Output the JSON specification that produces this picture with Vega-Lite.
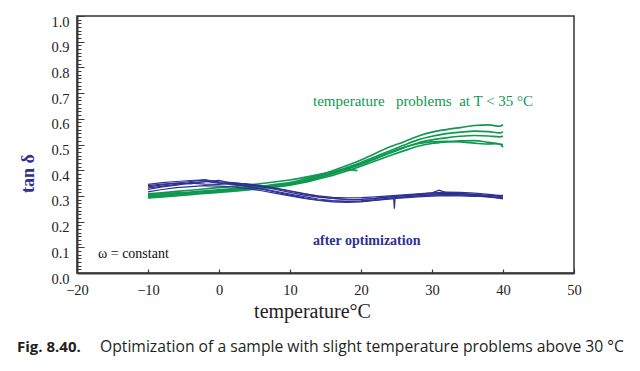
{
  "$schema": "https://vega.github.io/schema/vega-lite/v6.json",
  "width": 497,
  "height": 257,
  "autosize": {"type": "none"},
  "padding": {"left": 77, "top": 16, "right": 66, "bottom": 98},
  "background": "white",
  "config": {"view": {"stroke": "#333333", "strokeWidth": 1.5}, "font": "Liberation Serif"},
  "datasets": {
    "curves": [
      {"g":"before","run":"G1","T":-10,"v":0.305},{"g":"before","run":"G1","T":-7,"v":0.31},{"g":"before","run":"G1","T":-4,"v":0.315},{"g":"before","run":"G1","T":-1,"v":0.322},{"g":"before","run":"G1","T":2,"v":0.328},{"g":"before","run":"G1","T":5,"v":0.335},{"g":"before","run":"G1","T":8,"v":0.345},{"g":"before","run":"G1","T":10,"v":0.352},{"g":"before","run":"G1","T":12,"v":0.365},{"g":"before","run":"G1","T":14,"v":0.38},{"g":"before","run":"G1","T":16,"v":0.398},{"g":"before","run":"G1","T":18,"v":0.418},{"g":"before","run":"G1","T":20,"v":0.44},{"g":"before","run":"G1","T":22,"v":0.465},{"g":"before","run":"G1","T":24,"v":0.49},{"g":"before","run":"G1","T":26,"v":0.51},{"g":"before","run":"G1","T":28.3,"v":0.535},{"g":"before","run":"G1","T":30,"v":0.548},{"g":"before","run":"G1","T":32,"v":0.558},{"g":"before","run":"G1","T":34,"v":0.566},{"g":"before","run":"G1","T":36,"v":0.574},{"g":"before","run":"G1","T":38,"v":0.576},{"g":"before","run":"G1","T":39.5,"v":0.571},{"g":"before","run":"G1","T":40,"v":0.577},
      {"g":"before","run":"G2","T":-10,"v":0.3},{"g":"before","run":"G2","T":-7,"v":0.305},{"g":"before","run":"G2","T":-4,"v":0.312},{"g":"before","run":"G2","T":-1,"v":0.318},{"g":"before","run":"G2","T":2,"v":0.325},{"g":"before","run":"G2","T":5,"v":0.332},{"g":"before","run":"G2","T":8,"v":0.34},{"g":"before","run":"G2","T":10,"v":0.348},{"g":"before","run":"G2","T":12,"v":0.36},{"g":"before","run":"G2","T":14,"v":0.375},{"g":"before","run":"G2","T":16,"v":0.392},{"g":"before","run":"G2","T":18,"v":0.41},{"g":"before","run":"G2","T":20,"v":0.43},{"g":"before","run":"G2","T":22,"v":0.452},{"g":"before","run":"G2","T":24,"v":0.475},{"g":"before","run":"G2","T":26,"v":0.497},{"g":"before","run":"G2","T":28,"v":0.518},{"g":"before","run":"G2","T":30,"v":0.532},{"g":"before","run":"G2","T":32,"v":0.542},{"g":"before","run":"G2","T":34,"v":0.548},{"g":"before","run":"G2","T":36,"v":0.552},{"g":"before","run":"G2","T":38,"v":0.55},{"g":"before","run":"G2","T":39.5,"v":0.545},{"g":"before","run":"G2","T":40,"v":0.55},
      {"g":"before","run":"G3","T":-10,"v":0.295},{"g":"before","run":"G3","T":-7,"v":0.3},{"g":"before","run":"G3","T":-4,"v":0.308},{"g":"before","run":"G3","T":-1,"v":0.315},{"g":"before","run":"G3","T":2,"v":0.322},{"g":"before","run":"G3","T":5,"v":0.33},{"g":"before","run":"G3","T":8,"v":0.338},{"g":"before","run":"G3","T":10,"v":0.345},{"g":"before","run":"G3","T":12,"v":0.356},{"g":"before","run":"G3","T":14,"v":0.37},{"g":"before","run":"G3","T":16,"v":0.386},{"g":"before","run":"G3","T":18,"v":0.404},{"g":"before","run":"G3","T":20,"v":0.423},{"g":"before","run":"G3","T":22,"v":0.444},{"g":"before","run":"G3","T":24,"v":0.466},{"g":"before","run":"G3","T":26,"v":0.487},{"g":"before","run":"G3","T":28,"v":0.506},{"g":"before","run":"G3","T":30,"v":0.518},{"g":"before","run":"G3","T":32,"v":0.526},{"g":"before","run":"G3","T":34,"v":0.532},{"g":"before","run":"G3","T":36,"v":0.535},{"g":"before","run":"G3","T":38,"v":0.533},{"g":"before","run":"G3","T":39.5,"v":0.53},{"g":"before","run":"G3","T":40,"v":0.532},
      {"g":"before","run":"G4","T":-10,"v":0.292},{"g":"before","run":"G4","T":-7,"v":0.298},{"g":"before","run":"G4","T":-4,"v":0.305},{"g":"before","run":"G4","T":-1,"v":0.312},{"g":"before","run":"G4","T":2,"v":0.318},{"g":"before","run":"G4","T":5,"v":0.326},{"g":"before","run":"G4","T":8,"v":0.335},{"g":"before","run":"G4","T":10,"v":0.342},{"g":"before","run":"G4","T":12,"v":0.352},{"g":"before","run":"G4","T":14,"v":0.366},{"g":"before","run":"G4","T":16,"v":0.38},{"g":"before","run":"G4","T":18,"v":0.397},{"g":"before","run":"G4","T":20,"v":0.416},{"g":"before","run":"G4","T":22,"v":0.436},{"g":"before","run":"G4","T":24,"v":0.456},{"g":"before","run":"G4","T":26,"v":0.475},{"g":"before","run":"G4","T":28,"v":0.493},{"g":"before","run":"G4","T":30,"v":0.504},{"g":"before","run":"G4","T":32,"v":0.51},{"g":"before","run":"G4","T":34,"v":0.514},{"g":"before","run":"G4","T":36,"v":0.515},{"g":"before","run":"G4","T":38,"v":0.508},{"g":"before","run":"G4","T":39.5,"v":0.502},{"g":"before","run":"G4","T":40,"v":0.49},
      {"g":"before","run":"G5","T":-10,"v":0.298},{"g":"before","run":"G5","T":-7,"v":0.303},{"g":"before","run":"G5","T":-4,"v":0.31},{"g":"before","run":"G5","T":-1,"v":0.317},{"g":"before","run":"G5","T":2,"v":0.323},{"g":"before","run":"G5","T":5,"v":0.33},{"g":"before","run":"G5","T":8,"v":0.34},{"g":"before","run":"G5","T":10,"v":0.347},{"g":"before","run":"G5","T":12,"v":0.358},{"g":"before","run":"G5","T":14,"v":0.372},{"g":"before","run":"G5","T":16,"v":0.388},{"g":"before","run":"G5","T":18,"v":0.405},{"g":"before","run":"G5","T":20,"v":0.425},{"g":"before","run":"G5","T":22,"v":0.446},{"g":"before","run":"G5","T":24,"v":0.468},{"g":"before","run":"G5","T":26,"v":0.488},{"g":"before","run":"G5","T":28,"v":0.503},{"g":"before","run":"G5","T":30,"v":0.51},{"g":"before","run":"G5","T":32,"v":0.512},{"g":"before","run":"G5","T":34,"v":0.51},{"g":"before","run":"G5","T":36,"v":0.505},{"g":"before","run":"G5","T":37.5,"v":0.502},{"g":"before","run":"G5","T":39,"v":0.503},{"g":"before","run":"G5","T":40,"v":0.5},
      {"g":"before","run":"G6","T":-10,"v":0.308},{"g":"before","run":"G6","T":-7,"v":0.315},{"g":"before","run":"G6","T":-4,"v":0.322},{"g":"before","run":"G6","T":-1,"v":0.33},{"g":"before","run":"G6","T":2,"v":0.337},{"g":"before","run":"G6","T":5,"v":0.345},{"g":"before","run":"G6","T":8,"v":0.355},{"g":"before","run":"G6","T":10,"v":0.362},{"g":"before","run":"G6","T":12,"v":0.372},{"g":"before","run":"G6","T":14,"v":0.383},{"g":"before","run":"G6","T":16,"v":0.394},{"g":"before","run":"G6","T":18,"v":0.402},{"g":"before","run":"G6","T":19.5,"v":0.398},
      {"g":"after","run":"B1","T":-10,"v":0.345},{"g":"after","run":"B1","T":-8,"v":0.352},{"g":"after","run":"B1","T":-6,"v":0.356},{"g":"after","run":"B1","T":-4,"v":0.36},{"g":"after","run":"B1","T":-2,"v":0.362},{"g":"after","run":"B1","T":0,"v":0.355},{"g":"after","run":"B1","T":2,"v":0.352},{"g":"after","run":"B1","T":4,"v":0.345},{"g":"after","run":"B1","T":6,"v":0.336},{"g":"after","run":"B1","T":8,"v":0.325},{"g":"after","run":"B1","T":10,"v":0.314},{"g":"after","run":"B1","T":12,"v":0.303},{"g":"after","run":"B1","T":14,"v":0.295},{"g":"after","run":"B1","T":16,"v":0.29},{"g":"after","run":"B1","T":18,"v":0.287},{"g":"after","run":"B1","T":20,"v":0.286},{"g":"after","run":"B1","T":22,"v":0.29},{"g":"after","run":"B1","T":24,"v":0.296},{"g":"after","run":"B1","T":26,"v":0.301},{"g":"after","run":"B1","T":28,"v":0.305},{"g":"after","run":"B1","T":30,"v":0.308},{"g":"after","run":"B1","T":32,"v":0.31},{"g":"after","run":"B1","T":34,"v":0.309},{"g":"after","run":"B1","T":36,"v":0.306},{"g":"after","run":"B1","T":38,"v":0.302},{"g":"after","run":"B1","T":40,"v":0.296},
      {"g":"after","run":"B2","T":-10,"v":0.335},{"g":"after","run":"B2","T":-8,"v":0.343},{"g":"after","run":"B2","T":-6,"v":0.35},{"g":"after","run":"B2","T":-4,"v":0.347},{"g":"after","run":"B2","T":-2,"v":0.355},{"g":"after","run":"B2","T":0,"v":0.36},{"g":"after","run":"B2","T":2,"v":0.348},{"g":"after","run":"B2","T":4,"v":0.338},{"g":"after","run":"B2","T":6,"v":0.328},{"g":"after","run":"B2","T":8,"v":0.318},{"g":"after","run":"B2","T":10,"v":0.307},{"g":"after","run":"B2","T":12,"v":0.297},{"g":"after","run":"B2","T":14,"v":0.288},{"g":"after","run":"B2","T":16,"v":0.282},{"g":"after","run":"B2","T":18,"v":0.279},{"g":"after","run":"B2","T":20,"v":0.28},{"g":"after","run":"B2","T":22,"v":0.283},{"g":"after","run":"B2","T":24,"v":0.289},{"g":"after","run":"B2","T":26,"v":0.295},{"g":"after","run":"B2","T":28,"v":0.3},{"g":"after","run":"B2","T":30,"v":0.303},{"g":"after","run":"B2","T":32,"v":0.305},{"g":"after","run":"B2","T":34,"v":0.304},{"g":"after","run":"B2","T":36,"v":0.3},{"g":"after","run":"B2","T":38,"v":0.295},{"g":"after","run":"B2","T":40,"v":0.29},
      {"g":"after","run":"B3","T":-10,"v":0.325},{"g":"after","run":"B3","T":-8,"v":0.335},{"g":"after","run":"B3","T":-6,"v":0.342},{"g":"after","run":"B3","T":-4,"v":0.35},{"g":"after","run":"B3","T":-2,"v":0.346},{"g":"after","run":"B3","T":0,"v":0.345},{"g":"after","run":"B3","T":2,"v":0.35},{"g":"after","run":"B3","T":4,"v":0.347},{"g":"after","run":"B3","T":6,"v":0.34},{"g":"after","run":"B3","T":8,"v":0.33},{"g":"after","run":"B3","T":10,"v":0.32},{"g":"after","run":"B3","T":12,"v":0.309},{"g":"after","run":"B3","T":14,"v":0.298},{"g":"after","run":"B3","T":16,"v":0.29},{"g":"after","run":"B3","T":18,"v":0.285},{"g":"after","run":"B3","T":20,"v":0.287},{"g":"after","run":"B3","T":22,"v":0.29},{"g":"after","run":"B3","T":24,"v":0.296},{"g":"after","run":"B3","T":26,"v":0.301},{"g":"after","run":"B3","T":28,"v":0.306},{"g":"after","run":"B3","T":30,"v":0.312},{"g":"after","run":"B3","T":31,"v":0.322},{"g":"after","run":"B3","T":32,"v":0.313},{"g":"after","run":"B3","T":34,"v":0.31},{"g":"after","run":"B3","T":36,"v":0.305},{"g":"after","run":"B3","T":38,"v":0.298},{"g":"after","run":"B3","T":40,"v":0.288},
      {"g":"after","run":"B4","T":-10,"v":0.316},{"g":"after","run":"B4","T":-8,"v":0.325},{"g":"after","run":"B4","T":-6,"v":0.332},{"g":"after","run":"B4","T":-4,"v":0.336},{"g":"after","run":"B4","T":-2,"v":0.34},{"g":"after","run":"B4","T":0,"v":0.338},{"g":"after","run":"B4","T":2,"v":0.335},{"g":"after","run":"B4","T":4,"v":0.328},{"g":"after","run":"B4","T":6,"v":0.32},{"g":"after","run":"B4","T":8,"v":0.31},{"g":"after","run":"B4","T":10,"v":0.3},{"g":"after","run":"B4","T":12,"v":0.29},{"g":"after","run":"B4","T":14,"v":0.282},{"g":"after","run":"B4","T":16,"v":0.277},{"g":"after","run":"B4","T":18,"v":0.275},{"g":"after","run":"B4","T":20,"v":0.277},{"g":"after","run":"B4","T":22,"v":0.282},{"g":"after","run":"B4","T":24.6,"v":0.289},{"g":"after","run":"B4","T":24.7,"v":0.25},{"g":"after","run":"B4","T":24.8,"v":0.29},{"g":"after","run":"B4","T":26,"v":0.292},{"g":"after","run":"B4","T":28,"v":0.296},{"g":"after","run":"B4","T":30,"v":0.299},{"g":"after","run":"B4","T":32,"v":0.301},{"g":"after","run":"B4","T":34,"v":0.3},{"g":"after","run":"B4","T":36,"v":0.298},{"g":"after","run":"B4","T":38,"v":0.3},{"g":"after","run":"B4","T":40,"v":0.302},
      {"g":"after","run":"B5","T":-10,"v":0.33},{"g":"after","run":"B5","T":-8,"v":0.338},{"g":"after","run":"B5","T":-6,"v":0.345},{"g":"after","run":"B5","T":-4,"v":0.352},{"g":"after","run":"B5","T":-2,"v":0.356},{"g":"after","run":"B5","T":0,"v":0.35},{"g":"after","run":"B5","T":2,"v":0.344},{"g":"after","run":"B5","T":4,"v":0.336},{"g":"after","run":"B5","T":6,"v":0.326},{"g":"after","run":"B5","T":8,"v":0.315},{"g":"after","run":"B5","T":10,"v":0.303},{"g":"after","run":"B5","T":12,"v":0.292},{"g":"after","run":"B5","T":14,"v":0.284},{"g":"after","run":"B5","T":16,"v":0.28},{"g":"after","run":"B5","T":18,"v":0.279},{"g":"after","run":"B5","T":20,"v":0.281},{"g":"after","run":"B5","T":22,"v":0.286},{"g":"after","run":"B5","T":24,"v":0.291},{"g":"after","run":"B5","T":26,"v":0.296},{"g":"after","run":"B5","T":28,"v":0.3},{"g":"after","run":"B5","T":30,"v":0.304},{"g":"after","run":"B5","T":32,"v":0.306},{"g":"after","run":"B5","T":34,"v":0.305},{"g":"after","run":"B5","T":36,"v":0.302},{"g":"after","run":"B5","T":38,"v":0.297},{"g":"after","run":"B5","T":40,"v":0.292},
      {"g":"after","run":"B6","T":-10,"v":0.34},{"g":"after","run":"B6","T":-8,"v":0.346},{"g":"after","run":"B6","T":-6,"v":0.35},{"g":"after","run":"B6","T":-4,"v":0.356},{"g":"after","run":"B6","T":-2,"v":0.362},{"g":"after","run":"B6","T":0,"v":0.352},{"g":"after","run":"B6","T":2,"v":0.346},{"g":"after","run":"B6","T":4,"v":0.342},{"g":"after","run":"B6","T":6,"v":0.337},{"g":"after","run":"B6","T":8,"v":0.328},{"g":"after","run":"B6","T":10,"v":0.318},{"g":"after","run":"B6","T":12,"v":0.308},{"g":"after","run":"B6","T":14,"v":0.3},{"g":"after","run":"B6","T":16,"v":0.294},{"g":"after","run":"B6","T":18,"v":0.292},{"g":"after","run":"B6","T":20,"v":0.293},{"g":"after","run":"B6","T":22,"v":0.296},{"g":"after","run":"B6","T":24,"v":0.3},{"g":"after","run":"B6","T":26,"v":0.304},{"g":"after","run":"B6","T":28,"v":0.308},{"g":"after","run":"B6","T":30,"v":0.312},{"g":"after","run":"B6","T":32,"v":0.315},{"g":"after","run":"B6","T":34,"v":0.314},{"g":"after","run":"B6","T":36,"v":0.311},{"g":"after","run":"B6","T":38,"v":0.306},{"g":"after","run":"B6","T":40,"v":0.3}
    ]
  },
  "layer": [
    {
      "data": {"name": "curves"},
      "transform": [{"filter": "datum.g === 'before'"}],
      "mark": {"type": "line", "strokeWidth": 1.7, "color": "#0f9850", "interpolate": "monotone"},
      "encoding": {
        "x": {
          "field": "T", "type": "quantitative",
          "scale": {"domain": [-20, 50], "nice": false, "zero": false},
          "axis": {
            "values": [-20, -10, 0, 10, 20, 30, 40, 50],
            "tickCount": 20,
            "grid": false,
            "domainColor": "#3a3a3a", "domainWidth": 2,
            "tickColor": "#3a3a3a", "tickSize": -4, "tickWidth": 1.2,
            "labelFont": "Liberation Serif", "labelFontSize": 14.5, "labelColor": "#222222",
            "labelPadding": 14, "labelFlush": false, "labelOverlap": false,
            "title": "temperature°C",
            "titleFont": "Liberation Serif", "titleFontSize": 20, "titleFontWeight": "normal", "titleColor": "#222222",
            "titleX": 235, "titleY": 44, "titleBaseline": "alphabetic", "titleAlign": "center"
          }
        },
        "y": {
          "field": "v", "type": "quantitative",
          "scale": {"domain": [0, 1], "nice": false},
          "axis": {
            "values": [0, 0.0143, 0.0286, 0.0429, 0.0571, 0.0714, 0.0857, 0.1, 0.1143, 0.1286, 0.1429, 0.1571, 0.1714, 0.1857, 0.2, 0.2143, 0.2286, 0.2429, 0.2571, 0.2714, 0.2857, 0.3, 0.3143, 0.3286, 0.3429, 0.3571, 0.3714, 0.3857, 0.4, 0.4143, 0.4286, 0.4429, 0.4571, 0.4714, 0.4857, 0.5, 0.5143, 0.5286, 0.5429, 0.5571, 0.5714, 0.5857, 0.6, 0.6143, 0.6286, 0.6429, 0.6571, 0.6714, 0.6857, 0.7, 0.7143, 0.7286, 0.7429, 0.7571, 0.7714, 0.7857, 0.8, 0.8143, 0.8286, 0.8429, 0.8571, 0.8714, 0.8857, 0.9, 0.9143, 0.9286, 0.9429, 0.9571, 0.9714, 0.9857, 1.0],
            "tickCount": 200,
            "labelExpr": "abs(datum.value*10 - round(datum.value*10)) < 0.001 ? format(datum.value, '.1f') : ''",
            "grid": false,
            "domainColor": "#3a3a3a", "domainWidth": 2,
            "tickColor": "#3a3a3a", "tickWidth": 1,
            "tickSize": {"condition": {"test": "abs(datum.value*10 - round(datum.value*10)) < 0.001", "value": -7}, "value": -4},
            "labelFont": "Liberation Serif", "labelFontSize": 14.5, "labelColor": "#222222",
            "labelPadding": 15, "labelOffset": 6, "labelBound": false, "labelFlush": false, "labelOverlap": false,
            "title": "tan δ",
            "titleFont": "Liberation Serif", "titleFontSize": 18, "titleFontWeight": "bold", "titleColor": "#2e3192",
            "titleX": -49, "titleY": 157, "titleAngle": -90, "titleAlign": "center", "titleBaseline": "middle"
          }
        },
        "detail": {"field": "run"}
      }
    },
    {
      "data": {"name": "curves"},
      "transform": [{"filter": "datum.g === 'after'"}],
      "mark": {"type": "line", "strokeWidth": 1.2, "color": "#2e3192", "interpolate": "linear"},
      "encoding": {
        "x": {"field": "T", "type": "quantitative"},
        "y": {"field": "v", "type": "quantitative"},
        "detail": {"field": "run"}
      }
    },
    {
      "data": {"values": [{"label": "temperature\u00a0\u00a0 problems\u00a0 at T < 35 °C"}]},
      "mark": {"type": "text", "align": "left", "baseline": "alphabetic", "font": "Liberation Serif", "fontSize": 15, "color": "#0f9850"},
      "encoding": {"x": {"datum": 13.24}, "y": {"datum": 0.65}, "text": {"field": "label"}}
    },
    {
      "data": {"values": [{"label": "after optimization"}]},
      "mark": {"type": "text", "align": "left", "baseline": "alphabetic", "font": "Liberation Serif", "fontSize": 14, "fontWeight": "bold", "color": "#2e3192"},
      "encoding": {"x": {"datum": 13.24}, "y": {"datum": 0.109}, "text": {"field": "label"}}
    },
    {
      "data": {"values": [{"label": "ω = constant"}]},
      "mark": {"type": "text", "align": "left", "baseline": "alphabetic", "font": "Liberation Serif", "fontSize": 14, "color": "#111111"},
      "encoding": {"x": {"datum": -17.04}, "y": {"datum": 0.058}, "text": {"field": "label"}}
    },
    {
      "data": {"values": [{"label": "Fig. 8.40."}]},
      "mark": {"type": "text", "align": "left", "baseline": "alphabetic", "font": "Open Sans", "fontSize": 15, "fontWeight": "bold", "color": "#231f20"},
      "encoding": {"x": {"datum": -28.45}, "y": {"datum": -0.307}, "text": {"field": "label"}}
    },
    {
      "data": {"values": [{"label": "Optimization of a sample with slight temperature problems above 30 °C"}]},
      "mark": {"type": "text", "align": "left", "baseline": "alphabetic", "font": "Open Sans", "fontSize": 15.7, "color": "#231f20"},
      "encoding": {"x": {"datum": -16.76}, "y": {"datum": -0.307}, "text": {"field": "label"}}
    }
  ]
}
